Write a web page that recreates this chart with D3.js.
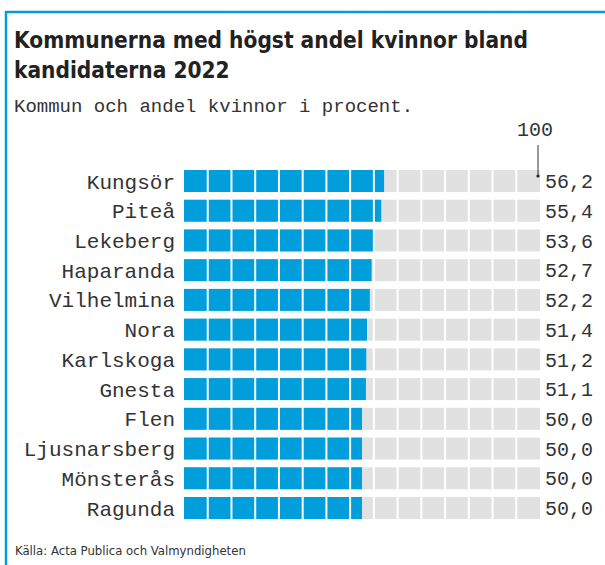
<!DOCTYPE html>
<html>
<head>
<meta charset="utf-8">
<script src="https://cdn.jsdelivr.net/npm/d3@7"></script>
<style>
  body { margin: 0; background: #fff; }
  .label, .value, .sub, .tick-label { font-family: "Liberation Mono", monospace; fill: #333; }
  .title { font-family: "Liberation Sans Narrow", "DejaVu Sans Condensed", sans-serif; font-weight: bold; fill: #222; }
  .source { font-family: "Liberation Sans Narrow", "DejaVu Sans Condensed", sans-serif; fill: #333; }
</style>
</head>
<body>
<script>
// data
var kommuner = ["Kungsör", "Piteå", "Lekeberg", "Haparanda", "Vilhelmina", "Nora",
                "Karlskoga", "Gnesta", "Flen", "Ljusnarsberg", "Mönsterås", "Ragunda"];
var andel = [56.2, 55.4, 53.6, 52.7, 52.2, 51.4, 51.2, 51.1, 50.0, 50.0, 50.0, 50.0];
var maxTick = [100];

window.onload = function() {
    var w = 605, h = 565;
    var blue = "#009edb";

    var svg = d3.select("body")
        .append("svg")
        .attr("width", w)
        .attr("height", h);

    // frame: blue rule on top and on the left
    svg.append("line")
        .attr("x1", 5).attr("x2", w)
        .attr("y1", 12).attr("y2", 12)
        .style("stroke", blue).style("stroke-width", 2.5);
    svg.append("line")
        .attr("x1", 6).attr("x2", 6)
        .attr("y1", 11).attr("y2", h)
        .style("stroke", blue).style("stroke-width", 2.5);

    // titles - shrink the font until the first line is as wide as in the reference
    var titleSize = 26;
    var t1 = svg.append("text").attr("class", "title")
        .attr("x", 14).attr("y", 48)
        .style("font-size", titleSize + "px")
        .text("Kommunerna med högst andel kvinnor bland");
    var len = t1.node().getComputedTextLength();
    if (len > 514) {
        titleSize = titleSize * 514 / len;
        t1.style("font-size", titleSize + "px");
    }
    svg.append("text").attr("class", "title")
        .attr("x", 14).attr("y", 78)
        .style("font-size", titleSize + "px")
        .text("kandidaterna 2022");
    svg.append("text").attr("class", "sub")
        .attr("x", 14).attr("y", 112)
        .style("font-size", "19px")
        .text("Kommun och andel kvinnor i procent.");

    // scales
    var x = d3.scaleLinear()
        .domain([0, 100])
        .range([184, 540]);
    var y = d3.scaleBand()
        .domain(kommuner)
        .range([170, 519])
        .paddingInner(0.26);

    var data = kommuner.map(function(k, i) {
        return { kommun: k, value: andel[i] };
    });

    // grey track
    svg.selectAll(".track")
        .data(data)
        .enter()
        .append("rect")
        .attr("class", "track")
        .attr("x", x(0))
        .attr("y", function(d) { return y(d.kommun); })
        .attr("width", x(100) - x(0))
        .attr("height", y.bandwidth())
        .style("fill", "#e1e1e1");

    // blue bars
    svg.selectAll(".bar")
        .data(data)
        .enter()
        .append("rect")
        .attr("class", "bar")
        .attr("x", x(0))
        .attr("y", function(d) { return y(d.kommun); })
        .attr("width", function(d) { return x(d.value) - x(0); })
        .attr("height", y.bandwidth())
        .style("fill", blue);

    // white cell dividers, 15 cells across the track
    var cells = d3.range(1, 15).map(function(i) { return i * 100 / 15; });
    svg.append("g")
        .selectAll("line")
        .data(cells)
        .enter()
        .append("line")
        .attr("x1", function(d) { return x(d); })
        .attr("x2", function(d) { return x(d); })
        .attr("y1", y.range()[0] - 1)
        .attr("y2", y.range()[1] + 1)
        .style("stroke", "#fff")
        .style("stroke-width", 2);

    // kommun names
    svg.selectAll(".label")
        .data(data)
        .enter()
        .append("text")
        .attr("class", "label")
        .attr("text-anchor", "end")
        .attr("x", 175)
        .attr("y", function(d) { return y(d.kommun) + y.bandwidth() / 2; })
        .attr("dy", "0.36em")
        .style("font-size", "21px")
        .text(function(d) { return d.kommun; });

    // values with decimal comma
    var fmt = d3.formatLocale({ decimal: ",", thousands: " ", grouping: [3], currency: ["", " kr"] }).format(".1f");
    svg.selectAll(".value")
        .data(data)
        .enter()
        .append("text")
        .attr("class", "value")
        .attr("x", x(100) + 5)
        .attr("y", function(d) { return y(d.kommun) + y.bandwidth() / 2; })
        .attr("dy", "0.36em")
        .style("font-size", "20px")
        .text(function(d) { return fmt(d.value); });

    // 100 marker
    var tick = svg.append("g").selectAll("g")
        .data(maxTick)
        .enter()
        .append("g");
    tick.append("text")
        .attr("class", "tick-label")
        .attr("text-anchor", "middle")
        .attr("x", function(d) { return x(d) - 5; })
        .attr("y", 136)
        .style("font-size", "20px")
        .text(function(d) { return d; });
    tick.append("line")
        .attr("x1", function(d) { return x(d) - 2; })
        .attr("x2", function(d) { return x(d) - 2; })
        .attr("y1", 145)
        .attr("y2", 176)
        .style("stroke", "#333")
        .style("stroke-width", 1);
    tick.append("circle")
        .attr("cx", function(d) { return x(d) - 2; })
        .attr("cy", 176)
        .attr("r", 1.6)
        .style("fill", "#222");

    // source
    svg.append("text").attr("class", "source")
        .attr("x", 15).attr("y", 555)
        .style("font-size", "13px")
        .text("Källa: Acta Publica och Valmyndigheten");
};
</script>
</body>
</html>
